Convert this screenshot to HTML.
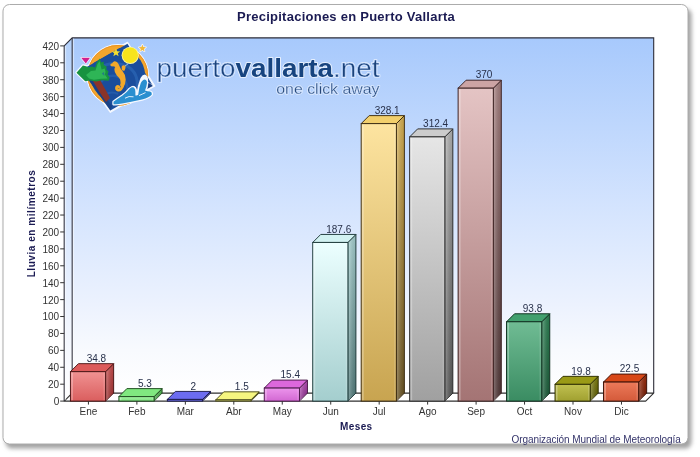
<!DOCTYPE html>
<html><head><meta charset="utf-8"><style>
html,body{margin:0;padding:0;background:#fff;}
body{width:700px;height:457px;overflow:hidden;}
svg{display:block;font-family:"Liberation Sans",sans-serif;will-change:transform;}
</style></head><body>
<svg width="700" height="457" viewBox="0 0 700 457">
<defs>
<linearGradient id="wall" x1="0" y1="0" x2="0" y2="1"><stop offset="0" stop-color="#a7c9fc"/><stop offset="0.5" stop-color="#d6e5fe"/><stop offset="0.75" stop-color="#ecf2fe"/><stop offset="0.88" stop-color="#f8fafe"/><stop offset="1" stop-color="#ffffff"/></linearGradient>
<linearGradient id="lwall" x1="0" y1="0" x2="0" y2="1"><stop offset="0" stop-color="#b4d1fa"/><stop offset="0.5" stop-color="#d8e7fe"/><stop offset="0.8" stop-color="#f2f6fe"/><stop offset="1" stop-color="#ffffff"/></linearGradient>
<filter id="sh" x="-5%" y="-5%" width="115%" height="115%"><feGaussianBlur stdDeviation="1.9"/></filter>
<linearGradient id="fg0" x1="0" y1="0" x2="0" y2="1"><stop offset="0" stop-color="#f09292"/><stop offset="1" stop-color="#da5e5e"/></linearGradient>
<linearGradient id="sg0" x1="0" y1="0" x2="0" y2="1"><stop offset="0" stop-color="#d05050"/><stop offset="1" stop-color="#a03030"/></linearGradient>
<linearGradient id="fg1" x1="0" y1="0" x2="0" y2="1"><stop offset="0" stop-color="#a4f2a4"/><stop offset="1" stop-color="#80e080"/></linearGradient>
<linearGradient id="sg1" x1="0" y1="0" x2="0" y2="1"><stop offset="0" stop-color="#60c860"/><stop offset="1" stop-color="#3a9a3a"/></linearGradient>
<linearGradient id="fg2" x1="0" y1="0" x2="0" y2="1"><stop offset="0" stop-color="#8888f4"/><stop offset="1" stop-color="#6060e0"/></linearGradient>
<linearGradient id="sg2" x1="0" y1="0" x2="0" y2="1"><stop offset="0" stop-color="#4c4cc8"/><stop offset="1" stop-color="#30309a"/></linearGradient>
<linearGradient id="fg3" x1="0" y1="0" x2="0" y2="1"><stop offset="0" stop-color="#fafaa0"/><stop offset="1" stop-color="#ecec78"/></linearGradient>
<linearGradient id="sg3" x1="0" y1="0" x2="0" y2="1"><stop offset="0" stop-color="#d4d458"/><stop offset="1" stop-color="#a8a838"/></linearGradient>
<linearGradient id="fg4" x1="0" y1="0" x2="0" y2="1"><stop offset="0" stop-color="#ec94ec"/><stop offset="1" stop-color="#d268d2"/></linearGradient>
<linearGradient id="sg4" x1="0" y1="0" x2="0" y2="1"><stop offset="0" stop-color="#c050c0"/><stop offset="1" stop-color="#8a2a8a"/></linearGradient>
<linearGradient id="fg5" x1="0" y1="0" x2="0" y2="1"><stop offset="0" stop-color="#ecffff"/><stop offset="1" stop-color="#a4cece"/></linearGradient>
<linearGradient id="sg5" x1="0" y1="0" x2="0" y2="1"><stop offset="0" stop-color="#a8d4d4"/><stop offset="1" stop-color="#527c7c"/></linearGradient>
<linearGradient id="fg6" x1="0" y1="0" x2="0" y2="1"><stop offset="0" stop-color="#fde4a0"/><stop offset="1" stop-color="#c8a450"/></linearGradient>
<linearGradient id="sg6" x1="0" y1="0" x2="0" y2="1"><stop offset="0" stop-color="#dcb452"/><stop offset="1" stop-color="#6a5424"/></linearGradient>
<linearGradient id="fg7" x1="0" y1="0" x2="0" y2="1"><stop offset="0" stop-color="#e6e6e6"/><stop offset="1" stop-color="#a0a0a0"/></linearGradient>
<linearGradient id="sg7" x1="0" y1="0" x2="0" y2="1"><stop offset="0" stop-color="#b4b4b4"/><stop offset="1" stop-color="#585858"/></linearGradient>
<linearGradient id="fg8" x1="0" y1="0" x2="0" y2="1"><stop offset="0" stop-color="#e4c4c4"/><stop offset="1" stop-color="#a47474"/></linearGradient>
<linearGradient id="sg8" x1="0" y1="0" x2="0" y2="1"><stop offset="0" stop-color="#a88080"/><stop offset="1" stop-color="#503636"/></linearGradient>
<linearGradient id="fg9" x1="0" y1="0" x2="0" y2="1"><stop offset="0" stop-color="#70bc94"/><stop offset="1" stop-color="#3a8c62"/></linearGradient>
<linearGradient id="sg9" x1="0" y1="0" x2="0" y2="1"><stop offset="0" stop-color="#2c8454"/><stop offset="1" stop-color="#1a5a38"/></linearGradient>
<linearGradient id="fg10" x1="0" y1="0" x2="0" y2="1"><stop offset="0" stop-color="#c0c050"/><stop offset="1" stop-color="#a0a030"/></linearGradient>
<linearGradient id="sg10" x1="0" y1="0" x2="0" y2="1"><stop offset="0" stop-color="#848410"/><stop offset="1" stop-color="#5a5a00"/></linearGradient>
<linearGradient id="fg11" x1="0" y1="0" x2="0" y2="1"><stop offset="0" stop-color="#ec7a5a"/><stop offset="1" stop-color="#d45a3a"/></linearGradient>
<linearGradient id="sg11" x1="0" y1="0" x2="0" y2="1"><stop offset="0" stop-color="#a42e0c"/><stop offset="1" stop-color="#701a04"/></linearGradient>
<linearGradient id="sideov" x1="0" y1="0" x2="1" y2="0"><stop offset="0" stop-color="#fff" stop-opacity="0.28"/><stop offset="1" stop-color="#000" stop-opacity="0.1"/></linearGradient>
</defs>
<rect x="5.5" y="8.6" width="686" height="440" rx="6.5" fill="#a2a2a2" filter="url(#sh)"/>
<rect x="3" y="4.5" width="685" height="439.5" rx="6.5" fill="#fff" stroke="#acacac" stroke-width="1"/>
<text x="237" y="20.8" font-weight="bold" font-size="13" letter-spacing="0.25" fill="#1a1a52">Precipitaciones en Puerto Vallarta</text>
<rect x="72.2" y="37.9" width="581.5" height="355.2" fill="url(#wall)"/>
<polygon points="64.2,45.9 72.2,37.9 72.2,393.1 64.2,401.1" fill="url(#lwall)"/>
<polygon points="64.2,401.1 72.2,393.1 653.7,393.1 645.7,401.1" fill="#ffffff" stroke="#303030" stroke-width="1.1" stroke-linejoin="round"/>
<polyline points="64.2,45.9 72.2,37.9 653.7,37.9 653.7,393.1" fill="none" stroke="#2c2c38" stroke-width="1.1"/>
<line x1="72.2" y1="37.9" x2="72.2" y2="393.1" stroke="#2c2c38" stroke-width="1.1"/>
<line x1="64.2" y1="45.9" x2="64.2" y2="401.1" stroke="#2c2c38" stroke-width="1.1"/>
<rect x="64.8" y="45.9" width="1.3" height="354.2" fill="#fff" opacity="0.45"/>
<rect x="72.8" y="38.5" width="1.3" height="354.2" fill="#fff" opacity="0.45"/>
<g id="logo">
<!-- white halo -->
<circle cx="117.8" cy="75.4" r="31.3" fill="#f4f8ff"/>
<path d="M127.5,42.3 L154.8,86 L110.4,112.3 L79.8,69.9 Z" fill="#f4f8ff" stroke="#f4f8ff" stroke-width="1.2" stroke-linejoin="round"/>
<path d="M76.6,72.7 L82.9,65.5 L86.5,66 L88,69.5 L85.2,81.2 Z" fill="#f4f8ff" stroke="#f4f8ff" stroke-width="2.6" stroke-linejoin="round"/>
<!-- orange disc -->
<circle cx="117.8" cy="75.4" r="30.3" fill="#f3a62e"/>
<circle cx="117.8" cy="75.4" r="29.9" fill="none" stroke="#e98f1f" stroke-width="0.9"/>
<clipPath id="hp"><polygon points="70,76.4 160,24.8 160,120 70,120"/></clipPath>
<circle cx="117.8" cy="75.4" r="27.3" fill="#1a4d9c" clip-path="url(#hp)"/>
<!-- dark diamond -->
<polygon points="127.5,43.8 152.8,85.8 110.4,110.4 81.4,69.9" fill="#1a4d9c"/>
<path d="M110.4,110.4 L81.4,69.9 L86,70 Q100,90 112,106 Z" fill="#183a78" opacity="0.6"/>
<!-- swirls -->
<path d="M99,68 Q112,60 127,66 Q139,73 137,88" fill="none" stroke="#2b66b4" stroke-width="3" opacity="0.75"/>
<path d="M101,82 Q108,73 119,77 Q129,81 127,93" fill="none" stroke="#2b66b4" stroke-width="2.5" opacity="0.6"/>
<path d="M104,96 Q110,90 118,94" fill="none" stroke="#2b66b4" stroke-width="2" opacity="0.6"/>
<!-- sun -->
<circle cx="130.2" cy="55.3" r="8.6" fill="#fbf4a0"/>
<circle cx="130.2" cy="55.3" r="7.8" fill="#f8e41c"/>
<!-- star inside -->
<polygon points="116,48.3 117.1,51.2 120.2,51.4 117.8,53.3 118.6,56.3 116,54.6 113.4,56.3 114.2,53.3 111.8,51.4 114.9,51.2" fill="#f4df30"/>
<!-- star outside -->
<polygon points="142.4,44.6 143.4,47 146,47.3 144,48.9 144.6,51.4 142.4,50 140.2,51.4 140.8,48.9 138.8,47.3 141.4,47" fill="#f0b83a" stroke="#f6f8ff" stroke-width="1.4" stroke-linejoin="round" paint-order="stroke"/>
<!-- magenta triangle -->
<polygon points="81.2,57.8 90,57.8 85.8,63.4" fill="#d21f8c" stroke="#f6f8ff" stroke-width="1.4" stroke-linejoin="round" paint-order="stroke"/>
<!-- trunk -->
<path d="M92,79.5 L99.5,79 Q105,88.5 110,98 L106,102 Q98.5,91 92,79.5 Z" fill="#8a3429"/>
<!-- palm leaves -->
<path d="M76.5,72.7 L82.9,65.5 L86,66.2 L88.5,67.2 L92,66.6 L95,67.4 L96.8,62.5 L99.6,58.4 L101.2,62.6 L103.6,61.6 L103.8,65 L106.6,66.4 L106.4,69.6 L108.6,71.6 L107.6,74.6 L109.8,77.4 L108.6,80.8 L102,80.2 L96,81.6 L90,80.6 L85.2,81.2 Z" fill="#17923f"/>
<path d="M86,75 L91,71 L95.5,70.5 L97.6,64 L99.6,61.2 L100.6,65.5 L101.6,69.6 L104.6,68.6 L105.6,72 L104.8,74.5 L107.6,78.4 L101,78.8 L94,79.8 L89,78.6 Z" fill="#2eb556"/>
<path d="M101.8,73.5 L104,72 L104.4,76 Z" fill="#1a5aa0" opacity="0.6"/>
<!-- seahorse -->
<path d="M114.4,61.2 Q117.6,61.4 119,65 Q120.4,68.8 122.8,71.6 Q125.8,75 125.7,79.5 Q125.6,84 123.4,87.4 L120,85.6 Q121,82.5 120.2,79.8 Q119.3,77.6 116.8,75.4 Q114.2,72.6 114.4,69.6 Q114.6,67.8 115.2,67 Q113.6,66.1 112.2,66.4 Q110.4,66.2 110.3,65 Q110.4,63.6 112.2,63.3 Q112.9,61.5 114.4,61.2 Z" fill="#f2a82a"/>
<path d="M122.6,85.4 Q121.6,90.2 118.2,90.1 Q115.8,89.4 116.6,87.1 Q117.6,85.9 118.9,86.9" fill="none" stroke="#f2a82a" stroke-width="2.7" stroke-linecap="round"/>
<path d="M121.6,66.5 Q123.4,64.6 125.4,65.8 Q126,68.5 124.6,70.6 Q122.8,71.2 121.8,69.8 Z" fill="#f2a82a"/>
<line x1="125" y1="66" x2="128.8" y2="63.4" stroke="#9ec4e8" stroke-width="0.9"/>
<!-- wave -->
<path d="M136.5,94 Q137.5,85 140.5,78 Q142.5,74.6 145,74.6 Q147.8,75.6 148.2,80 Q148,86 146,92.5 Z" fill="#f4f8ff"/>
<path d="M127,92 Q129.5,86.6 133,85.8 Q136.2,86.2 136.8,89.5 L137.5,96 L130,96 Z" fill="#f4f8ff"/>
<path d="M148.4,82.6 L152.9,85.9 L147.8,88.6 Z" fill="#183e80" stroke="#f4f8ff" stroke-width="1" stroke-linejoin="round" paint-order="stroke"/>
<path d="M113.5,101.8 Q118,98.5 122.5,95.6 Q126.5,92.8 129.6,88.8 Q131.8,86.8 133.8,87.6 Q135.6,88.8 135.4,92 L135.4,95.4 Q136.8,96 138.2,94.8 Q138.8,88 140.8,83 Q142.6,79.4 144.8,79.4 Q147.2,80 147,83 Q146.5,87 145,90.6 Q147.5,91.4 150,91.6 Q152.2,92.4 151.8,94.4 Q149.5,97.2 142,99.6 Q132,101.8 122,103.6 Q117,104.6 113.5,104.2 Z" fill="#2a8fd0" stroke="#f4f8ff" stroke-width="2.4" stroke-linejoin="round" paint-order="stroke"/>
<path d="M125,98.2 Q129,95.6 133.5,96.8" fill="none" stroke="#f4f8ff" stroke-width="0.9"/>
<path d="M139,95.6 Q142.5,94 145.5,92.6" fill="none" stroke="#f4f8ff" stroke-width="0.9"/>
</g>
<!-- logo text -->
<text x="156.6" y="76.8" font-size="25" fill="none" textLength="222.8" lengthAdjust="spacingAndGlyphs" stroke="#e6effd" stroke-width="1.8" stroke-linejoin="round">puerto<tspan font-weight="bold">vallarta</tspan>.net</text>
<text x="156.6" y="76.8" font-size="25" fill="#1b4279" textLength="222.8" lengthAdjust="spacingAndGlyphs">puerto<tspan font-weight="bold" fill="#17447f">vallarta</tspan>.net</text>
<text x="156.6" y="76.8" font-size="25" fill="none" textLength="222.8" lengthAdjust="spacingAndGlyphs" stroke="#b2cefa" stroke-width="0.55">puerto<tspan stroke="none" font-weight="bold">vallarta</tspan>.net</text>
<text x="276.3" y="93.8" font-size="14.5" fill="none" textLength="103.2" lengthAdjust="spacingAndGlyphs" stroke="#e6effd" stroke-width="1.5" stroke-linejoin="round">one click away</text>
<text x="276.3" y="93.8" font-size="14.5" fill="#244677" textLength="103.2" lengthAdjust="spacingAndGlyphs">one click away</text>
<text x="276.3" y="93.8" font-size="14.5" fill="none" textLength="103.2" lengthAdjust="spacingAndGlyphs" stroke="#b6d1fa" stroke-width="0.35">one click away</text>

<line x1="60.2" y1="401.1" x2="64.2" y2="401.1" stroke="#333" stroke-width="1"/>
<text x="59.2" y="405" text-anchor="end" font-size="10" fill="#333">0</text>
<line x1="60.2" y1="384.19" x2="64.2" y2="384.19" stroke="#333" stroke-width="1"/>
<text x="59.2" y="388.09" text-anchor="end" font-size="10" fill="#333">20</text>
<line x1="60.2" y1="367.27" x2="64.2" y2="367.27" stroke="#333" stroke-width="1"/>
<text x="59.2" y="371.17" text-anchor="end" font-size="10" fill="#333">40</text>
<line x1="60.2" y1="350.36" x2="64.2" y2="350.36" stroke="#333" stroke-width="1"/>
<text x="59.2" y="354.26" text-anchor="end" font-size="10" fill="#333">60</text>
<line x1="60.2" y1="333.44" x2="64.2" y2="333.44" stroke="#333" stroke-width="1"/>
<text x="59.2" y="337.34" text-anchor="end" font-size="10" fill="#333">80</text>
<line x1="60.2" y1="316.53" x2="64.2" y2="316.53" stroke="#333" stroke-width="1"/>
<text x="59.2" y="320.43" text-anchor="end" font-size="10" fill="#333">100</text>
<line x1="60.2" y1="299.61" x2="64.2" y2="299.61" stroke="#333" stroke-width="1"/>
<text x="59.2" y="303.51" text-anchor="end" font-size="10" fill="#333">120</text>
<line x1="60.2" y1="282.7" x2="64.2" y2="282.7" stroke="#333" stroke-width="1"/>
<text x="59.2" y="286.6" text-anchor="end" font-size="10" fill="#333">140</text>
<line x1="60.2" y1="265.79" x2="64.2" y2="265.79" stroke="#333" stroke-width="1"/>
<text x="59.2" y="269.69" text-anchor="end" font-size="10" fill="#333">160</text>
<line x1="60.2" y1="248.87" x2="64.2" y2="248.87" stroke="#333" stroke-width="1"/>
<text x="59.2" y="252.77" text-anchor="end" font-size="10" fill="#333">180</text>
<line x1="60.2" y1="231.96" x2="64.2" y2="231.96" stroke="#333" stroke-width="1"/>
<text x="59.2" y="235.86" text-anchor="end" font-size="10" fill="#333">200</text>
<line x1="60.2" y1="215.04" x2="64.2" y2="215.04" stroke="#333" stroke-width="1"/>
<text x="59.2" y="218.94" text-anchor="end" font-size="10" fill="#333">220</text>
<line x1="60.2" y1="198.13" x2="64.2" y2="198.13" stroke="#333" stroke-width="1"/>
<text x="59.2" y="202.03" text-anchor="end" font-size="10" fill="#333">240</text>
<line x1="60.2" y1="181.21" x2="64.2" y2="181.21" stroke="#333" stroke-width="1"/>
<text x="59.2" y="185.11" text-anchor="end" font-size="10" fill="#333">260</text>
<line x1="60.2" y1="164.3" x2="64.2" y2="164.3" stroke="#333" stroke-width="1"/>
<text x="59.2" y="168.2" text-anchor="end" font-size="10" fill="#333">280</text>
<line x1="60.2" y1="147.39" x2="64.2" y2="147.39" stroke="#333" stroke-width="1"/>
<text x="59.2" y="151.29" text-anchor="end" font-size="10" fill="#333">300</text>
<line x1="60.2" y1="130.47" x2="64.2" y2="130.47" stroke="#333" stroke-width="1"/>
<text x="59.2" y="134.37" text-anchor="end" font-size="10" fill="#333">320</text>
<line x1="60.2" y1="113.56" x2="64.2" y2="113.56" stroke="#333" stroke-width="1"/>
<text x="59.2" y="117.46" text-anchor="end" font-size="10" fill="#333">340</text>
<line x1="60.2" y1="96.64" x2="64.2" y2="96.64" stroke="#333" stroke-width="1"/>
<text x="59.2" y="100.54" text-anchor="end" font-size="10" fill="#333">360</text>
<line x1="60.2" y1="79.73" x2="64.2" y2="79.73" stroke="#333" stroke-width="1"/>
<text x="59.2" y="83.63" text-anchor="end" font-size="10" fill="#333">380</text>
<line x1="60.2" y1="62.81" x2="64.2" y2="62.81" stroke="#333" stroke-width="1"/>
<text x="59.2" y="66.71" text-anchor="end" font-size="10" fill="#333">400</text>
<line x1="60.2" y1="45.9" x2="64.2" y2="45.9" stroke="#333" stroke-width="1"/>
<text x="59.2" y="49.8" text-anchor="end" font-size="10" fill="#333">420</text>
<polygon points="105.63,371.67 113.63,363.67 113.63,393.1 105.63,401.1" fill="url(#sg0)" stroke="#4a1414" stroke-width="0.95" stroke-linejoin="round"/>
<polygon points="106.13,371.67 113.63,364.17 113.63,393.1 106.13,401.1" fill="url(#sideov)"/>
<polygon points="70.43,371.67 78.43,363.67 113.63,363.67 105.63,371.67" fill="#dc5a5a" stroke="#4a1414" stroke-width="0.95" stroke-linejoin="round"/>
<rect x="70.43" y="371.67" width="35.2" height="29.43" fill="url(#fg0)" stroke="#4a1414" stroke-width="0.95"/>
<rect x="71.33" y="372.57" width="1.6" height="27.63" fill="#fff" opacity="0.3"/>
<rect x="103.43" y="372.57" width="1.3" height="27.63" fill="#fff" opacity="0.15"/>
<text x="96.43" y="361.87" text-anchor="middle" font-size="10" fill="#27304a">34.8</text>
<line x1="88.43" y1="401.1" x2="88.43" y2="404.6" stroke="#333" stroke-width="1"/>
<text x="88.43" y="415" text-anchor="middle" font-size="10" fill="#333">Ene</text>
<polygon points="154.09,396.62 162.09,388.62 162.09,393.1 154.09,401.1" fill="url(#sg1)" stroke="#1e4a1e" stroke-width="0.95" stroke-linejoin="round"/>
<polygon points="154.59,396.62 162.09,389.12 162.09,393.1 154.59,401.1" fill="url(#sideov)"/>
<polygon points="118.89,396.62 126.89,388.62 162.09,388.62 154.09,396.62" fill="#80e880" stroke="#1e4a1e" stroke-width="0.95" stroke-linejoin="round"/>
<rect x="118.89" y="396.62" width="35.2" height="4.48" fill="url(#fg1)" stroke="#1e4a1e" stroke-width="0.95"/>
<rect x="119.79" y="397.52" width="1.6" height="2.68" fill="#fff" opacity="0.3"/>
<rect x="151.89" y="397.52" width="1.3" height="2.68" fill="#fff" opacity="0.15"/>
<text x="144.89" y="386.82" text-anchor="middle" font-size="10" fill="#27304a">5.3</text>
<line x1="136.89" y1="401.1" x2="136.89" y2="404.6" stroke="#333" stroke-width="1"/>
<text x="136.89" y="415" text-anchor="middle" font-size="10" fill="#333">Feb</text>
<polygon points="202.55,399.41 210.55,391.41 210.55,393.1 202.55,401.1" fill="url(#sg2)" stroke="#1a1a4a" stroke-width="0.95" stroke-linejoin="round"/>
<polygon points="203.05,399.41 210.55,391.91 210.55,393.1 203.05,401.1" fill="url(#sideov)"/>
<polygon points="167.35,399.41 175.35,391.41 210.55,391.41 202.55,399.41" fill="#6c6cf0" stroke="#1a1a4a" stroke-width="0.95" stroke-linejoin="round"/>
<rect x="167.35" y="399.41" width="35.2" height="1.69" fill="url(#fg2)" stroke="#1a1a4a" stroke-width="0.95"/>
<rect x="168.25" y="400.31" width="1.6" height="0" fill="#fff" opacity="0.3"/>
<rect x="200.35" y="400.31" width="1.3" height="0" fill="#fff" opacity="0.15"/>
<text x="193.35" y="389.61" text-anchor="middle" font-size="10" fill="#27304a">2</text>
<line x1="185.35" y1="401.1" x2="185.35" y2="404.6" stroke="#333" stroke-width="1"/>
<text x="185.35" y="415" text-anchor="middle" font-size="10" fill="#333">Mar</text>
<polygon points="251,399.83 259,391.83 259,393.1 251,401.1" fill="url(#sg3)" stroke="#4a4a1a" stroke-width="0.95" stroke-linejoin="round"/>
<polygon points="251.5,399.83 259,392.33 259,393.1 251.5,401.1" fill="url(#sideov)"/>
<polygon points="215.8,399.83 223.8,391.83 259,391.83 251,399.83" fill="#f6f680" stroke="#4a4a1a" stroke-width="0.95" stroke-linejoin="round"/>
<rect x="215.8" y="399.83" width="35.2" height="1.27" fill="url(#fg3)" stroke="#4a4a1a" stroke-width="0.95"/>
<rect x="216.7" y="400.73" width="1.6" height="0" fill="#fff" opacity="0.3"/>
<rect x="248.8" y="400.73" width="1.3" height="0" fill="#fff" opacity="0.15"/>
<text x="241.8" y="390.03" text-anchor="middle" font-size="10" fill="#27304a">1.5</text>
<line x1="233.8" y1="401.1" x2="233.8" y2="404.6" stroke="#333" stroke-width="1"/>
<text x="233.8" y="415" text-anchor="middle" font-size="10" fill="#333">Abr</text>
<polygon points="299.46,388.08 307.46,380.08 307.46,393.1 299.46,401.1" fill="url(#sg4)" stroke="#4a1a4a" stroke-width="0.95" stroke-linejoin="round"/>
<polygon points="299.96,388.08 307.46,380.58 307.46,393.1 299.96,401.1" fill="url(#sideov)"/>
<polygon points="264.26,388.08 272.26,380.08 307.46,380.08 299.46,388.08" fill="#dc68dc" stroke="#4a1a4a" stroke-width="0.95" stroke-linejoin="round"/>
<rect x="264.26" y="388.08" width="35.2" height="13.02" fill="url(#fg4)" stroke="#4a1a4a" stroke-width="0.95"/>
<rect x="265.16" y="388.98" width="1.6" height="11.22" fill="#fff" opacity="0.3"/>
<rect x="297.26" y="388.98" width="1.3" height="11.22" fill="#fff" opacity="0.15"/>
<text x="290.26" y="378.28" text-anchor="middle" font-size="10" fill="#27304a">15.4</text>
<line x1="282.26" y1="401.1" x2="282.26" y2="404.6" stroke="#333" stroke-width="1"/>
<text x="282.26" y="415" text-anchor="middle" font-size="10" fill="#333">May</text>
<polygon points="347.92,242.44 355.92,234.44 355.92,393.1 347.92,401.1" fill="url(#sg5)" stroke="#1e3a3a" stroke-width="0.95" stroke-linejoin="round"/>
<polygon points="348.42,242.44 355.92,234.94 355.92,393.1 348.42,401.1" fill="url(#sideov)"/>
<polygon points="312.72,242.44 320.72,234.44 355.92,234.44 347.92,242.44" fill="#d2f2f2" stroke="#1e3a3a" stroke-width="0.95" stroke-linejoin="round"/>
<rect x="312.72" y="242.44" width="35.2" height="158.66" fill="url(#fg5)" stroke="#1e3a3a" stroke-width="0.95"/>
<rect x="313.62" y="243.34" width="1.6" height="156.86" fill="#fff" opacity="0.3"/>
<rect x="345.72" y="243.34" width="1.3" height="156.86" fill="#fff" opacity="0.15"/>
<text x="338.72" y="232.64" text-anchor="middle" font-size="10" fill="#27304a">187.6</text>
<line x1="330.72" y1="401.1" x2="330.72" y2="404.6" stroke="#333" stroke-width="1"/>
<text x="330.72" y="415" text-anchor="middle" font-size="10" fill="#333">Jun</text>
<polygon points="396.38,123.62 404.38,115.62 404.38,393.1 396.38,401.1" fill="url(#sg6)" stroke="#3a2a10" stroke-width="0.95" stroke-linejoin="round"/>
<polygon points="396.88,123.62 404.38,116.12 404.38,393.1 396.88,401.1" fill="url(#sideov)"/>
<polygon points="361.18,123.62 369.18,115.62 404.38,115.62 396.38,123.62" fill="#f2cf6c" stroke="#3a2a10" stroke-width="0.95" stroke-linejoin="round"/>
<rect x="361.18" y="123.62" width="35.2" height="277.48" fill="url(#fg6)" stroke="#3a2a10" stroke-width="0.95"/>
<rect x="362.08" y="124.52" width="1.6" height="275.68" fill="#fff" opacity="0.3"/>
<rect x="394.18" y="124.52" width="1.3" height="275.68" fill="#fff" opacity="0.15"/>
<text x="387.18" y="113.82" text-anchor="middle" font-size="10" fill="#27304a">328.1</text>
<line x1="379.18" y1="401.1" x2="379.18" y2="404.6" stroke="#333" stroke-width="1"/>
<text x="379.18" y="415" text-anchor="middle" font-size="10" fill="#333">Jul</text>
<polygon points="444.84,136.9 452.84,128.9 452.84,393.1 444.84,401.1" fill="url(#sg7)" stroke="#2a2a2a" stroke-width="0.95" stroke-linejoin="round"/>
<polygon points="445.34,136.9 452.84,129.4 452.84,393.1 445.34,401.1" fill="url(#sideov)"/>
<polygon points="409.64,136.9 417.64,128.9 452.84,128.9 444.84,136.9" fill="#cccccc" stroke="#2a2a2a" stroke-width="0.95" stroke-linejoin="round"/>
<rect x="409.64" y="136.9" width="35.2" height="264.2" fill="url(#fg7)" stroke="#2a2a2a" stroke-width="0.95"/>
<rect x="410.54" y="137.8" width="1.6" height="262.4" fill="#fff" opacity="0.3"/>
<rect x="442.64" y="137.8" width="1.3" height="262.4" fill="#fff" opacity="0.15"/>
<text x="435.64" y="127.1" text-anchor="middle" font-size="10" fill="#27304a">312.4</text>
<line x1="427.64" y1="401.1" x2="427.64" y2="404.6" stroke="#333" stroke-width="1"/>
<text x="427.64" y="415" text-anchor="middle" font-size="10" fill="#333">Ago</text>
<polygon points="493.3,88.19 501.3,80.19 501.3,393.1 493.3,401.1" fill="url(#sg8)" stroke="#3a2020" stroke-width="0.95" stroke-linejoin="round"/>
<polygon points="493.8,88.19 501.3,80.69 501.3,393.1 493.8,401.1" fill="url(#sideov)"/>
<polygon points="458.1,88.19 466.1,80.19 501.3,80.19 493.3,88.19" fill="#cca4a4" stroke="#3a2020" stroke-width="0.95" stroke-linejoin="round"/>
<rect x="458.1" y="88.19" width="35.2" height="312.91" fill="url(#fg8)" stroke="#3a2020" stroke-width="0.95"/>
<rect x="459" y="89.09" width="1.6" height="311.11" fill="#fff" opacity="0.3"/>
<rect x="491.1" y="89.09" width="1.3" height="311.11" fill="#fff" opacity="0.15"/>
<text x="484.1" y="78.39" text-anchor="middle" font-size="10" fill="#27304a">370</text>
<line x1="476.1" y1="401.1" x2="476.1" y2="404.6" stroke="#333" stroke-width="1"/>
<text x="476.1" y="415" text-anchor="middle" font-size="10" fill="#333">Sep</text>
<polygon points="541.75,321.77 549.75,313.77 549.75,393.1 541.75,401.1" fill="url(#sg9)" stroke="#0e2e1e" stroke-width="0.95" stroke-linejoin="round"/>
<polygon points="542.25,321.77 549.75,314.27 549.75,393.1 542.25,401.1" fill="url(#sideov)"/>
<polygon points="506.55,321.77 514.55,313.77 549.75,313.77 541.75,321.77" fill="#42a06e" stroke="#0e2e1e" stroke-width="0.95" stroke-linejoin="round"/>
<rect x="506.55" y="321.77" width="35.2" height="79.33" fill="url(#fg9)" stroke="#0e2e1e" stroke-width="0.95"/>
<rect x="507.45" y="322.67" width="1.6" height="77.53" fill="#fff" opacity="0.3"/>
<rect x="539.55" y="322.67" width="1.3" height="77.53" fill="#fff" opacity="0.15"/>
<text x="532.55" y="311.97" text-anchor="middle" font-size="10" fill="#27304a">93.8</text>
<line x1="524.55" y1="401.1" x2="524.55" y2="404.6" stroke="#333" stroke-width="1"/>
<text x="524.55" y="415" text-anchor="middle" font-size="10" fill="#333">Oct</text>
<polygon points="590.21,384.35 598.21,376.35 598.21,393.1 590.21,401.1" fill="url(#sg10)" stroke="#2e2e00" stroke-width="0.95" stroke-linejoin="round"/>
<polygon points="590.71,384.35 598.21,376.85 598.21,393.1 590.71,401.1" fill="url(#sideov)"/>
<polygon points="555.01,384.35 563.01,376.35 598.21,376.35 590.21,384.35" fill="#9a9a16" stroke="#2e2e00" stroke-width="0.95" stroke-linejoin="round"/>
<rect x="555.01" y="384.35" width="35.2" height="16.75" fill="url(#fg10)" stroke="#2e2e00" stroke-width="0.95"/>
<rect x="555.91" y="385.25" width="1.6" height="14.95" fill="#fff" opacity="0.3"/>
<rect x="588.01" y="385.25" width="1.3" height="14.95" fill="#fff" opacity="0.15"/>
<text x="581.01" y="374.55" text-anchor="middle" font-size="10" fill="#27304a">19.8</text>
<line x1="573.01" y1="401.1" x2="573.01" y2="404.6" stroke="#333" stroke-width="1"/>
<text x="573.01" y="415" text-anchor="middle" font-size="10" fill="#333">Nov</text>
<polygon points="638.67,382.07 646.67,374.07 646.67,393.1 638.67,401.1" fill="url(#sg11)" stroke="#3a1006" stroke-width="0.95" stroke-linejoin="round"/>
<polygon points="639.17,382.07 646.67,374.57 646.67,393.1 639.17,401.1" fill="url(#sideov)"/>
<polygon points="603.47,382.07 611.47,374.07 646.67,374.07 638.67,382.07" fill="#d84818" stroke="#3a1006" stroke-width="0.95" stroke-linejoin="round"/>
<rect x="603.47" y="382.07" width="35.2" height="19.03" fill="url(#fg11)" stroke="#3a1006" stroke-width="0.95"/>
<rect x="604.37" y="382.97" width="1.6" height="17.23" fill="#fff" opacity="0.3"/>
<rect x="636.47" y="382.97" width="1.3" height="17.23" fill="#fff" opacity="0.15"/>
<text x="629.47" y="372.27" text-anchor="middle" font-size="10" fill="#27304a">22.5</text>
<line x1="621.47" y1="401.1" x2="621.47" y2="404.6" stroke="#333" stroke-width="1"/>
<text x="621.47" y="415" text-anchor="middle" font-size="10" fill="#333">Dic</text>
<text x="340" y="430" font-weight="bold" font-size="10" letter-spacing="0.4" fill="#1a1a52">Meses</text>
<text transform="translate(35,277.3) rotate(-90)" x="0" y="0" font-weight="bold" font-size="10" letter-spacing="0.55" fill="#1a1a52">Lluvia en milímetros</text>
<text x="511.5" y="442.6" font-size="10" letter-spacing="-0.07" fill="#34346a">Organización Mundial de Meteorología</text>
</svg>
</body></html>
